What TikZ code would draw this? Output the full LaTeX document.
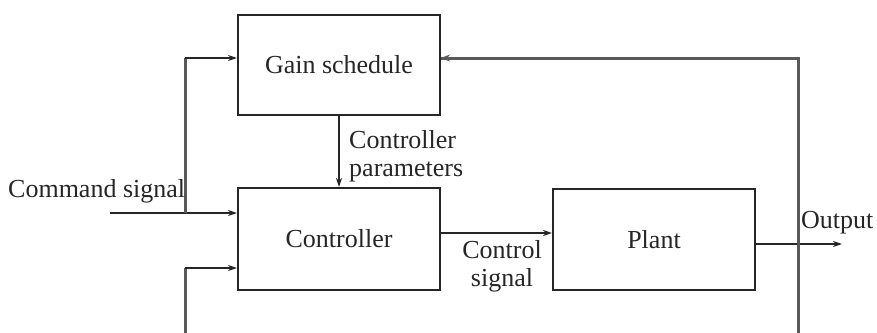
\documentclass[tikz,border=0pt]{standalone}
\usepackage{fontspec}
\setmainfont{Liberation Serif}
\usetikzlibrary{arrows.meta}
\begin{document}
\begin{tikzpicture}[x=1pt,y=-1pt,
  font=\fontsize{26}{28}\selectfont,
  blk/.style={draw=black!85, line width=2pt, minimum width=202pt, minimum height=100pt, inner sep=0pt, text=black!85},
  sig/.style={draw=black!85, line width=1.6pt, -{Stealth[length=9pt,width=6pt]}},
  fb/.style={draw=black!65, line width=3pt},
  fbarrow/.style={draw=black!65, line width=3pt, -{Stealth[length=9pt,width=7pt]}},
  lbl/.style={inner sep=0pt, text=black!85, align=center}
]
\useasboundingbox (0,0) rectangle (877,332);
\node[blk] (gs) at (339,65) {Gain schedule};
\node[blk, minimum height=102pt] (ctrl) at (339,239) {Controller};
\node[blk, minimum height=101pt] (plant) at (654,239.5) {Plant};

% command signal
\coordinate (cs) at (110,213);
\coordinate (b1) at (185,213);
\coordinate (b1t) at (185,58);
\draw[sig] (cs) -- (ctrl.west |- cs);
\draw[fb] (b1) -- (b1t);
\draw[sig] (b1t) -- (gs.west |- b1t);
\node[lbl, anchor=base west] (cmd) at (8,197) {Command signal};

% lower feedback into controller
\coordinate (b2b) at (185,345);
\coordinate (b2t) at (185,268);
\draw[fb] (b2b) -- (b2t);
\draw[sig] (b2t) -- (ctrl.west |- b2t);

% gain schedule -> controller
\draw[sig] (gs.south) -- (ctrl.north);
\node[lbl, align=left, anchor=north west] (cp) at (349,130) {Controller\\parameters};

% controller -> plant
\coordinate (c1) at (ctrl.east |- 0,233);
\draw[sig] (c1) -- (plant.west |- c1);
\node[lbl] (csig) at (502,266) {Control\\signal};

% plant -> output
\coordinate (o1) at (plant.east |- 0,244);
\coordinate (o2) at (842,244);
\draw[sig] (o1) -- (o2);
\node[lbl, anchor=base west] (out) at (801,228) {Output};

% top feedback
\coordinate (f1) at (798,345);
\coordinate (f2) at (798,58);
\draw[fb] (f1) -- (f2) -- (gs.east |- f2);
\draw[fbarrow] (460,58) -- (gs.east |- f2);
\draw[fb] (b2b) -- (f1);
\end{tikzpicture}
\end{document}
